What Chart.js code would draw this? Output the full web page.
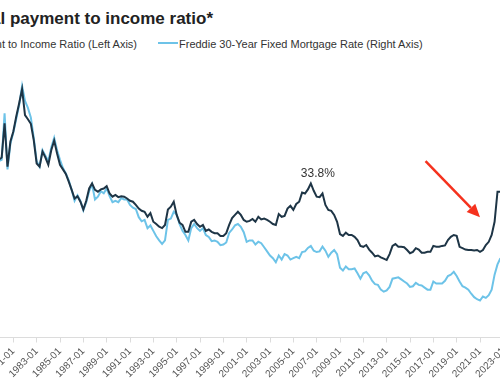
<!DOCTYPE html>
<html><head><meta charset="utf-8">
<script src="https://cdn.jsdelivr.net/npm/chart.js@4.4.1/dist/chart.umd.min.js"></script>
<style>
html,body{margin:0;padding:0;background:#fff;}
#wrap{position:relative;width:500px;height:383px;overflow:hidden;font-family:"Liberation Sans",Arial,sans-serif;}
#title{position:absolute;top:9px;right:287px;white-space:nowrap;font-weight:bold;font-size:17px;color:#222;}
#leg1{position:absolute;top:38px;right:363px;white-space:nowrap;font-size:11px;color:#333;}
#leg2{position:absolute;top:38px;left:158px;white-space:nowrap;font-size:11px;color:#333;}
.sw{display:inline-block;width:20px;height:2px;vertical-align:middle;position:relative;top:-2px;margin-right:1px;}
#cw{position:absolute;left:-60px;top:0;width:640px;height:383px;}
</style></head>
<body>
<div id="wrap">
  <div id="title">Typical payment to income ratio*</div>
  <div id="leg1"><span class="sw" style="background:#1e3546"></span>Payment to Income Ratio (Left Axis)</div>
  <div id="leg2"><span class="sw" style="background:#6dc3e8"></span>Freddie 30-Year Fixed Mortgage Rate (Right Axis)</div>
  <div id="cw"><canvas id="c" width="640" height="383"></canvas></div>
</div>
<script>
const dates = [
"1979-10",
"1980-01","1980-04","1980-07","1980-10","1981-01","1981-04","1981-07","1981-10",
"1982-01","1982-04","1982-07","1982-10","1983-01","1983-04","1983-07","1983-10",
"1984-01","1984-04","1984-07","1984-10","1985-01","1985-04","1985-07","1985-10",
"1986-01","1986-04","1986-07","1986-10","1987-01","1987-04","1987-07","1987-10",
"1988-01","1988-04","1988-07","1988-10","1989-01","1989-04","1989-07","1989-10",
"1990-01","1990-04","1990-07","1990-10","1991-01","1991-04","1991-07","1991-10",
"1992-01","1992-04","1992-07","1992-10","1993-01","1993-04","1993-07","1993-10",
"1994-01","1994-04","1994-07","1994-10","1995-01","1995-04","1995-07","1995-10",
"1996-01","1996-04","1996-07","1996-10","1997-01","1997-04","1997-07","1997-10",
"1998-01","1998-04","1998-07","1998-10","1999-01","1999-04","1999-07","1999-10",
"2000-01","2000-04","2000-07","2000-10","2001-01","2001-04","2001-07","2001-10",
"2002-01","2002-04","2002-07","2002-10","2003-01","2003-04","2003-07","2003-10",
"2004-01","2004-04","2004-07","2004-10","2005-01","2005-04","2005-07","2005-10",
"2006-01","2006-04","2006-07","2006-10","2007-01","2007-04","2007-07","2007-10",
"2008-01","2008-04","2008-07","2008-10","2009-01","2009-04","2009-07","2009-10",
"2010-01","2010-04","2010-07","2010-10","2011-01","2011-04","2011-07","2011-10",
"2012-01","2012-04","2012-07","2012-10","2013-01","2013-04","2013-07","2013-10",
"2014-01","2014-04","2014-07","2014-10","2015-01","2015-04","2015-07","2015-10",
"2016-01","2016-04","2016-07","2016-10","2017-01","2017-04","2017-07","2017-10",
"2018-01","2018-04","2018-07","2018-10","2019-01","2019-04","2019-07","2019-10",
"2020-01","2020-04","2020-07","2020-10","2021-01","2021-04","2021-07","2021-10",
"2022-01","2022-04","2022-07","2022-10"
];
const payRatio = [
39.0,
39.5,47.0,37.5,43.0, 45.2,48.5,51.4,54.5,
48.8,47.9,46.9,43.3, 38.2,37.5,40.8,39.5,
37.9,41.1,43.2,40.4, 37.9,36.9,35.9,34.2,
32.4,30.5,31.0,29.8, 28.1,30.0,32.7,33.8,
32.4,32.0,32.5,32.7, 33.2,31.6,30.9,31.3,
30.8,31.0,30.9,30.5, 30.0,29.8,29.1,28.3,
27.8,27.6,26.5,27.3, 25.4,24.9,24.3,24.0,
24.7,28.1,28.7,29.8, 26.9,25.2,24.7,23.2,
23.2,25.4,25.8,24.9, 24.3,24.7,23.4,23.7,
23.2,22.9,22.9,22.3, 22.3,22.9,24.7,26.2,
26.9,27.6,26.9,25.8, 25.4,25.6,26.0,25.4,
26.5,25.9,26.1,25.8, 25.4,24.9,24.7,27.1,
26.5,26.7,28.3,28.9, 28.0,29.3,29.8,31.8,
31.6,32.5,33.8,32.2, 30.9,30.8,31.6,29.1,
28.0,27.8,26.9,25.4, 22.7,22.3,23.0,22.5,
22.5,22.1,21.4,20.1, 19.9,20.3,19.3,18.6,
17.8,18.0,17.6,17.3, 17.0,18.3,20.1,20.5,
19.9,19.9,19.8,19.2, 18.5,18.8,19.6,19.3,
18.6,18.6,18.8,18.8, 20.1,19.9,19.9,20.1,
20.2,21.4,22.1,22.5, 22.3,19.9,19.6,19.3,
19.2,19.2,19.1,19.2, 18.8,19.2,20.3,21.0,
22.5,25.4,32.0,32.0
];
const mortgageRate = [
12.9,
13.0,16.4,12.3,14.2, 15.0,16.0,17.0,18.4,
17.3,16.8,16.1,14.6, 12.9,12.5,13.7,13.3,
12.9,13.9,14.6,13.7, 13.0,12.4,12.0,11.5,
10.8,10.0,10.4,10.0, 9.3,9.9,10.7,11.2,
10.1,10.3,10.7,10.55, 10.9,10.35,9.9,10.0,
9.9,10.2,10.1,10.1, 9.7,9.5,9.4,8.8,
8.5,8.6,8.0,8.2, 7.8,7.4,7.1,6.85,
7.1,8.6,8.7,9.2, 9.0,8.3,7.8,7.5,
7.1,8.0,8.3,8.0, 7.8,8.0,7.5,7.35,
7.05,7.1,7.0,6.75, 6.8,6.95,7.65,7.9,
8.2,8.3,8.1,7.7, 7.0,7.1,7.1,6.8,
7.0,6.9,6.6,6.3, 6.0,5.8,5.5,6.0,
5.7,6.1,6.0,5.7, 5.8,5.9,5.8,6.25,
6.3,6.55,6.7,6.35, 6.25,6.3,6.65,6.35,
5.9,6.2,6.4,6.1, 5.1,4.9,5.2,5.0,
5.0,5.05,4.7,4.3, 4.7,4.8,4.55,4.15,
3.9,3.85,3.5,3.35, 3.45,3.7,4.3,4.35,
4.4,4.25,4.1,3.95, 3.7,3.75,4.0,3.85,
3.8,3.65,3.5,3.5, 4.1,3.95,3.95,3.95,
4.15,4.5,4.6,4.8, 4.5,4.1,3.75,3.65,
3.5,3.2,2.95,2.8, 2.7,3.0,2.9,3.1,
3.5,4.6,5.35,5.8
];
const tickLabels = ["1981-01","1983-01","1985-01","1987-01","1989-01","1991-01","1993-01","1995-01","1997-01","1999-01","2001-01","2003-01","2005-01","2007-01","2009-01","2011-01","2013-01","2015-01","2017-01","2019-01","2021-01","2023-01"];
const peakNote = {date:"2006-07", value:33.8, text:"33.8%"};
const arrowNote = {from:{date:"2016-05", value:38.7}, to:{date:"2021-01", value:26.4}};

const toYear = s => Number(s.slice(0,4)) + (Number(s.slice(5,7)) - 1) / 12;
const tickYears = tickLabels.map(toYear);

const notesPlugin = {
  id:'notes',
  afterDatasetsDraw(chart){
    const ctx = chart.ctx, x = chart.scales.x, y = chart.scales.y;
    ctx.save();
    // peak label
    const px = x.getPixelForValue(toYear(peakNote.date)), py = y.getPixelForValue(peakNote.value);
    ctx.font = '12px "Liberation Sans", Arial, sans-serif';
    ctx.fillStyle = '#333';
    ctx.textAlign = 'center';
    ctx.textBaseline = 'alphabetic';
    ctx.fillText(peakNote.text, px + 7, py - 6);
    // red arrow
    const x1 = x.getPixelForValue(toYear(arrowNote.from.date)), y1 = y.getPixelForValue(arrowNote.from.value);
    const x2 = x.getPixelForValue(toYear(arrowNote.to.date)), y2 = y.getPixelForValue(arrowNote.to.value);
    const ang = Math.atan2(y2 - y1, x2 - x1), head = 13, hw = 6;
    const bx = x2 - head * Math.cos(ang), by = y2 - head * Math.sin(ang);
    ctx.strokeStyle = '#f5321e';
    ctx.fillStyle = '#f5321e';
    ctx.lineWidth = 2.5;
    ctx.beginPath(); ctx.moveTo(x1, y1); ctx.lineTo(bx, by); ctx.stroke();
    ctx.beginPath();
    ctx.moveTo(x2, y2);
    ctx.lineTo(bx + hw * Math.sin(ang), by - hw * Math.cos(ang));
    ctx.lineTo(bx - hw * Math.sin(ang), by + hw * Math.cos(ang));
    ctx.closePath(); ctx.fill();
    ctx.restore();
  }
};

new Chart(document.getElementById('c'), {
  type:'line',
  data:{datasets:[
    {label:'Payment to Income Ratio (Left Axis)', data: dates.map((d,i)=>({x:toYear(d), y:payRatio[i]})),
     borderColor:'#1e3546', borderWidth:2, pointRadius:0, yAxisID:'y', tension:0},
    {label:'Freddie 30-Year Fixed Mortgage Rate (Right Axis)', data: dates.map((d,i)=>({x:toYear(d), y:mortgageRate[i]})),
     borderColor:'#6dc3e8', borderWidth:2, pointRadius:0, yAxisID:'y1', tension:0}
  ]},
  options:{
    responsive:false, animation:false, devicePixelRatio:1,
    layout:{padding:{left:50,right:65,top:64.1,bottom:0}},
    plugins:{legend:{display:false}, tooltip:{enabled:false}},
    scales:{
      x:{type:'linear', min:1979, max:2024,
         afterBuildTicks: s => { s.ticks = tickYears.map(v => ({value:v})); },
         afterFit: s => { s.height = 45.5; },
         ticks:{autoSkip:false, minRotation:45, maxRotation:45, padding:3, color:'#555',
                font:{size:10, family:'"Liberation Sans", Arial, sans-serif'},
                callback:(v,i) => tickLabels[i]},
         grid:{drawOnChartArea:false, drawTicks:true, tickLength:5, color:'#dcdcdc'},
         border:{display:true, color:'#dcdcdc'}},
      y:{position:'left', min:0, max:60, display:false},
      y1:{position:'right', min:0, max:20, display:false}
    }
  },
  plugins:[notesPlugin]
});
</script>
</body></html>
